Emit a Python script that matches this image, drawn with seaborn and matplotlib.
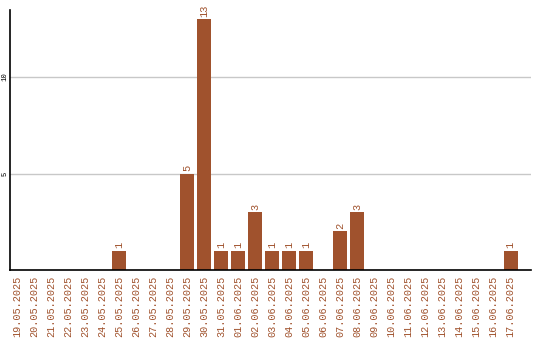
import matplotlib
matplotlib.use("Agg")
import matplotlib.pyplot as plt
import seaborn as sns
import pandas as pd

dates = ["19.05.2025", "20.05.2025", "21.05.2025", "22.05.2025", "23.05.2025",
         "24.05.2025", "25.05.2025", "26.05.2025", "27.05.2025", "28.05.2025",
         "29.05.2025", "30.05.2025", "31.05.2025", "01.06.2025", "02.06.2025",
         "03.06.2025", "04.06.2025", "05.06.2025", "06.06.2025", "07.06.2025",
         "08.06.2025", "09.06.2025", "10.06.2025", "11.06.2025", "12.06.2025",
         "13.06.2025", "14.06.2025", "15.06.2025", "16.06.2025", "17.06.2025"]
counts = [0, 0, 0, 0, 0, 0, 1, 0, 0, 0,
          5, 13, 1, 1, 3, 1, 1, 1, 0, 2,
          3, 0, 0, 0, 0, 0, 0, 0, 0, 1]
yticks = [5, 10]

color = "#A0522D"
sns.set_theme(style="white")
plt.rcParams["font.family"] = ["Liberation Mono", "DejaVu Sans Mono"]

df = pd.DataFrame({"date": dates, "count": counts})

fig = plt.figure(figsize=(5.4, 3.4), dpi=100)
ax = fig.add_axes([10/540, 70/340, 521/540, 260/340])
sns.barplot(data=df, x="date", y="count", color=color, saturation=1,
            width=0.82, ax=ax, zorder=3, linewidth=0, edgecolor="none")

for i, v in enumerate(counts):
    if v > 0:
        ax.text(i, v + 0.12, str(v), rotation=90, ha="center", va="bottom",
                color=color, fontsize=7.5)

ax.set_xlim(-0.41, 30.2)
ax.set_ylim(0, 13.48)
ax.set_yticks(yticks)
ax.set_yticklabels([str(t) for t in yticks], rotation=90, va="center",
                   fontsize=5.2, color="black")
ax.tick_params(axis="y", length=0, pad=1)
ax.tick_params(axis="x", length=0, pad=4)
ax.set_xticks(range(len(dates)))
ax.set_xticklabels(dates, rotation=90, fontsize=7.3, color=color)
ax.grid(axis="y", color="#c8c8c8", linewidth=1, zorder=0)
ax.set_xlabel("")
ax.set_ylabel("")
for s in ["top", "right"]:
    ax.spines[s].set_visible(False)
for s in ["left", "bottom"]:
    ax.spines[s].set_color("black")
    ax.spines[s].set_linewidth(1.2)
    ax.spines[s].set_zorder(5)

fig.savefig("out.png", dpi=100)
